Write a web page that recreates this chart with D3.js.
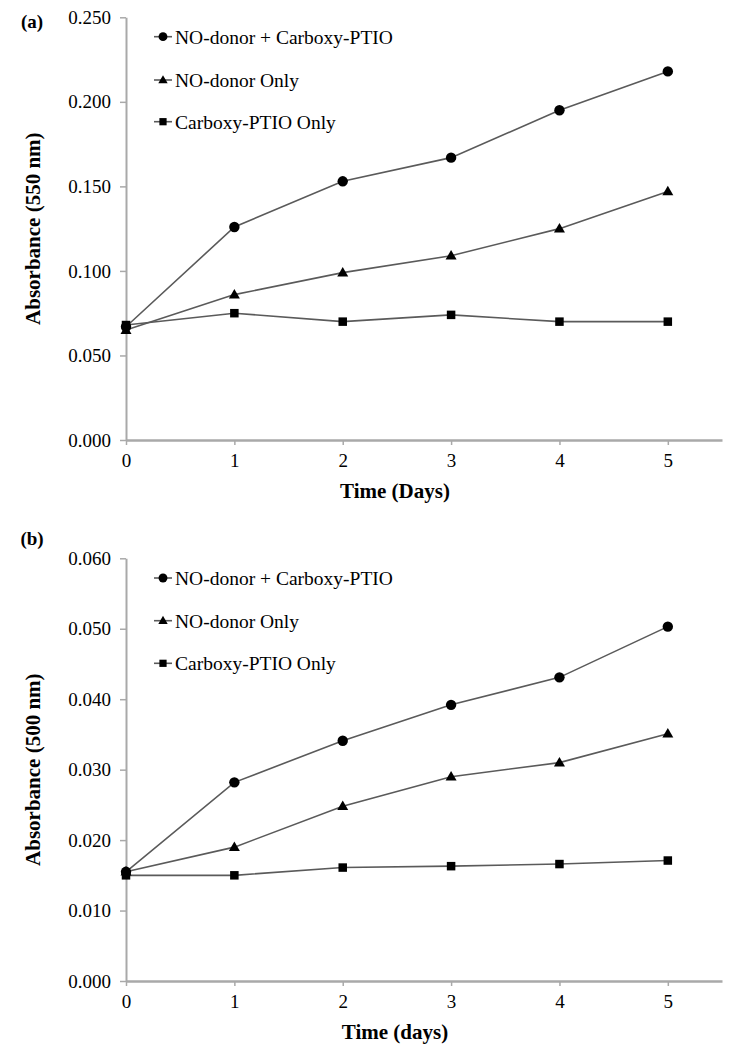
<!DOCTYPE html>
<html>
<head>
<meta charset="utf-8">
<script src="https://cdn.jsdelivr.net/npm/d3@7"></script>
<style>
  html, body { margin: 0; padding: 0; background: #fff; }
  svg { display: block; }
  svg text { font-family: "Liberation Serif", "Times New Roman", Times, "DejaVu Serif", serif !important; fill: #000; }
</style>
</head>
<body>
<svg id="chart" width="732" height="1050"></svg>
<script>
// ---------- data ----------
const days = [0, 1, 2, 3, 4, 5];
const seriesNames = ["NO-donor + Carboxy-PTIO", "NO-donor Only", "Carboxy-PTIO Only"];
const seriesMarkers = ["circle", "triangle", "square"];

// Panel (a): Absorbance (550 nm)
const aCombo = [0.067, 0.126, 0.153, 0.167, 0.195, 0.218];
const aDonor = [0.065, 0.086, 0.099, 0.109, 0.125, 0.147];
const aPtio  = [0.068, 0.075, 0.070, 0.074, 0.070, 0.070];
const aYTicks = [0, 0.05, 0.10, 0.15, 0.20, 0.25];

// Panel (b): Absorbance (500 nm)
const bCombo = [0.0155, 0.0282, 0.0341, 0.0392, 0.0431, 0.0503];
const bDonor = [0.0155, 0.0190, 0.0248, 0.0290, 0.0310, 0.0351];
const bPtio  = [0.0150, 0.0150, 0.0161, 0.0163, 0.0166, 0.0171];
const bYTicks = [0, 0.01, 0.02, 0.03, 0.04, 0.05, 0.06];

const xTicks = [0, 1, 2, 3, 4, 5];

// ---------- drawing ----------
const FONT = '"Liberation Serif", "Times New Roman", Times, "DejaVu Serif", serif';
const svg = d3.select("#chart");
const AXIS_COLOR = "#a9a9a9";
const LINE_COLOR = "#5a5a5a";

function marker(g, type, cx, cy, scale) {
  const s = scale || 1;
  if (type === "circle") {
    g.append("circle").attr("cx", cx).attr("cy", cy).attr("r", 5.2 * s).attr("fill", "#000");
  } else if (type === "triangle") {
    const h = 9.5 * s, w = 11 * s;
    g.append("path")
      .attr("d", `M${cx},${cy - h * 0.6} L${cx + w / 2},${cy + h * 0.4} L${cx - w / 2},${cy + h * 0.4} Z`)
      .attr("fill", "#000");
  } else {
    const a = 8.5 * s;
    g.append("rect").attr("x", cx - a / 2).attr("y", cy - a / 2).attr("width", a).attr("height", a).attr("fill", "#000");
  }
}

function panel(opts) {
  const g = svg.append("g").style("font-family", FONT);
  const x = d3.scaleLinear().domain([0, 5.5]).range([126, 722]);
  const y = d3.scaleLinear().domain([0, opts.yMax]).range([opts.y0, opts.yTop]);

  // y axis
  const yAxis = d3.axisLeft(y).tickValues(opts.yTicks).tickFormat(d3.format(".3f"))
    .tickSizeInner(6).tickSizeOuter(0).tickPadding(9);
  const yg = g.append("g").attr("transform", `translate(${x(0)},0)`).call(yAxis);
  yg.attr("font-family", null).attr("font-size", null);
  yg.select(".domain").attr("stroke", AXIS_COLOR).attr("stroke-width", 2);
  yg.selectAll(".tick line").attr("stroke", AXIS_COLOR).attr("stroke-width", 1.5);
  yg.selectAll(".tick text").style("font-size", "19px").style("font-family", FONT).attr("fill", "#000");

  // x axis
  const xAxis = d3.axisBottom(x).tickValues(xTicks).tickFormat(d3.format("d"))
    .tickSizeInner(5).tickSizeOuter(0).tickPadding(9);
  const xg = g.append("g").attr("transform", `translate(0,${y(0)})`).call(xAxis);
  xg.attr("font-family", null).attr("font-size", null);
  xg.select(".domain").attr("stroke", AXIS_COLOR).attr("stroke-width", 2.5);
  xg.selectAll(".tick line").attr("stroke", AXIS_COLOR).attr("stroke-width", 1.5);
  xg.selectAll(".tick text").style("font-size", "19px").style("font-family", FONT).attr("fill", "#000");

  // series
  const line = d3.line().x((d, i) => x(days[i])).y(d => y(d));
  opts.series.forEach((vals) => {
    g.append("path").datum(vals).attr("d", line)
      .attr("fill", "none").attr("stroke", LINE_COLOR).attr("stroke-width", 1.6);
  });
  opts.series.slice().reverse().forEach((vals, ri) => {
    const si = opts.series.length - 1 - ri;
    vals.forEach((v, i) => marker(g, seriesMarkers[si], x(days[i]), y(v)));
  });

  // legend
  seriesNames.forEach((name, i) => {
    const ly = opts.legendY[i];
    g.append("line").attr("x1", 154).attr("x2", 172).attr("y1", ly).attr("y2", ly)
      .attr("stroke", LINE_COLOR).attr("stroke-width", 1.6);
    marker(g, seriesMarkers[i], 163, ly, 0.85);
    g.append("text").attr("x", 175).attr("y", ly).attr("dy", "0.35em")
      .style("font-size", "19.5px").style("font-family", FONT).text(name);
  });

  // titles
  g.append("text")
    .attr("transform", `translate(33,${(opts.y0 + opts.yTop) / 2}) rotate(-90)`)
    .attr("text-anchor", "middle").attr("dy", "0.35em")
    .style("font-size", "21px").style("font-weight", "bold").style("font-family", FONT).text(opts.yTitle);
  g.append("text").attr("x", 395).attr("y", opts.y0 + 51).attr("dy", "0.35em")
    .attr("text-anchor", "middle")
    .style("font-size", "21px").style("font-weight", "bold").style("font-family", FONT).text(opts.xTitle);
  g.append("text").attr("x", 32).attr("y", opts.labelY).attr("dy", "0.35em")
    .attr("text-anchor", "middle")
    .style("font-size", "19px").style("font-weight", "bold").style("font-family", FONT).text(opts.label);
}

panel({
  yMax: 0.25, y0: 440, yTop: 17.3, yTicks: aYTicks,
  series: [aCombo, aDonor, aPtio],
  legendY: [36.7, 80, 121.7],
  yTitle: "Absorbance (550 nm)", xTitle: "Time (Days)", label: "(a)", labelY: 21
});
panel({
  yMax: 0.06, y0: 981, yTop: 558.3, yTicks: bYTicks,
  series: [bCombo, bDonor, bPtio],
  legendY: [578, 620.7, 663.3],
  yTitle: "Absorbance (500 nm)", xTitle: "Time (days)", label: "(b)", labelY: 538
});
</script>
</body>
</html>
